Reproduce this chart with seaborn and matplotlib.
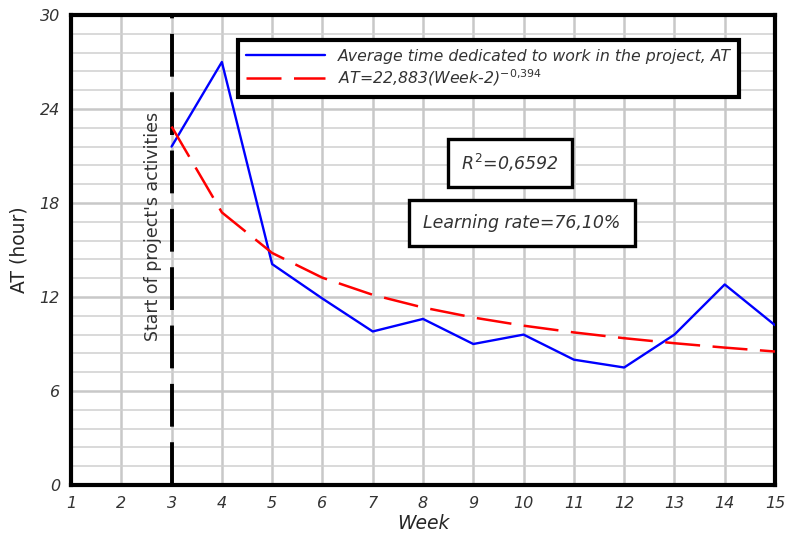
import matplotlib.pyplot as plt
import seaborn as sns
import pandas as pd
from matplotlib.ticker import MultipleLocator

# values
weeks = [3, 4, 5, 6, 7, 8, 9, 10, 11, 12, 13, 14, 15]
at_observed = [21.6, 27.0, 14.1, 11.9, 9.8, 10.6, 9.0, 9.6, 8.0, 7.5, 9.6, 12.8, 10.2]
at_fitted = [22.88, 17.40, 14.81, 13.23, 12.14, 11.33, 10.69, 10.17, 9.74, 9.37, 9.05, 8.77, 8.52]
x_ticks = list(range(1, 16))
y_ticks = [0, 6, 12, 18, 24, 30]

df = pd.DataFrame({'Week': weeks, 'AT': at_observed, 'Fit': at_fitted})

sns.set_style('white')
plt.rcParams['font.family'] = ['DejaVu Sans']
plt.rcParams['mathtext.default'] = 'it'

fig = plt.figure(figsize=(7.85, 5.4), dpi=100)
ax = fig.add_axes([71 / 785, 55 / 540, 704 / 785, 470 / 540])

# grid: vertical each week, horizontal every 1.2 hours
ax.xaxis.set_major_locator(MultipleLocator(1))
ax.yaxis.set_major_locator(MultipleLocator(6))
ax.yaxis.set_minor_locator(MultipleLocator(1.2))
ax.grid(True, which='major', color='#c8c8c8', linewidth=1.8, zorder=0)
ax.grid(True, which='minor', color='#d0d0d0', linewidth=1.1, zorder=0)
ax.set_axisbelow(True)

ax.axvline(3, color='black', linewidth=2.8, dashes=(11, 4), zorder=2)

sns.lineplot(data=df, x='Week', y='AT', ax=ax, color='#0000ff', linewidth=1.7,
             label='Average time dedicated to work in the project, AT', zorder=3)
sns.lineplot(data=df, x='Week', y='Fit', ax=ax, color='#ff0000', linewidth=1.8,
             dashes=False, label=r'AT=22,883(Week-2)$^{-0{,}394}$', zorder=3)
ax.lines[-1].set_dashes((14, 5))

ax.set_xlim(1, 15)
ax.set_ylim(0, 30)
ax.set_xticks(x_ticks)
ax.set_yticks(y_ticks)
ax.set_xticklabels([str(t) for t in x_ticks], fontstyle='italic', fontsize=11.5, color='#333333')
ax.set_yticklabels([str(t) for t in y_ticks], fontstyle='italic', fontsize=11.5, color='#333333')
ax.tick_params(length=0, pad=8)

for s in ax.spines.values():
    s.set_color('black')
    s.set_linewidth(3)

ax.set_xlabel('Week', fontstyle='italic', fontsize=13.5, labelpad=2)
ax.set_ylabel('AT (hour)', fontsize=13.5, labelpad=8)

leg = ax.legend(loc='upper left', bbox_to_anchor=(0.237, 0.947), borderaxespad=0,
                frameon=True, fancybox=False, framealpha=1, handlelength=5.0,
                borderpad=0.55, labelspacing=0.25, handletextpad=0.8,
                prop={'style': 'italic', 'size': 11.3})
leg.get_frame().set_edgecolor('black')
leg.get_frame().set_linewidth(3)
for t in leg.get_texts():
    t.set_color('#333333')

ax.text(2.8, 16.5, "Start of project's activities", rotation=90, ha='right',
        va='center', fontsize=12.5, color='#333333')

box = dict(boxstyle='square,pad=0.75', facecolor='white', edgecolor='black', linewidth=2.4)
ax.text(9.73, 20.55, r'$R^2$=0,6592', fontstyle='italic', fontsize=12.5, ha='center',
        va='center', color='#333333', bbox=box)
box2 = dict(boxstyle='square,pad=0.8', facecolor='white', edgecolor='black', linewidth=2.4)
ax.text(9.97, 16.7, 'Learning rate=76,10%', fontstyle='italic', fontsize=12.5,
        ha='center', va='center', color='#333333', bbox=box2)

fig.savefig('out.png', dpi=100)
